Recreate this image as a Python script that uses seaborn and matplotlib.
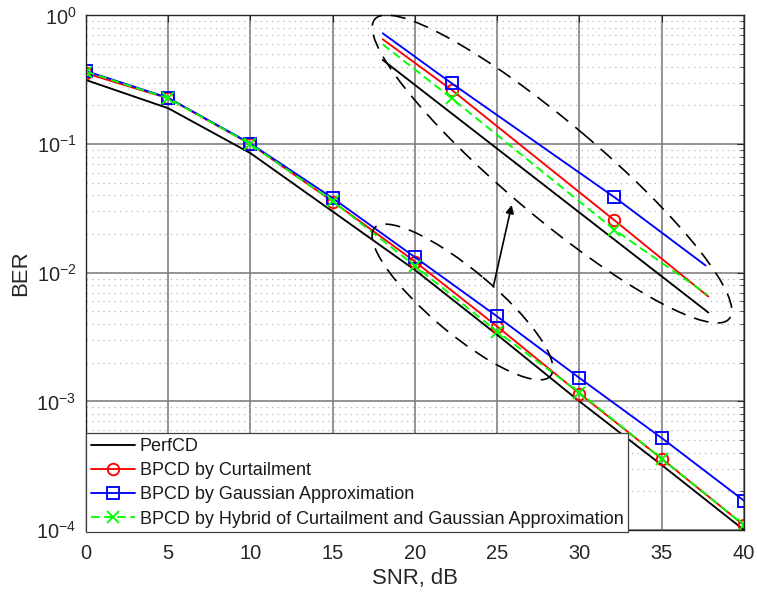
import numpy as np
import pandas as pd
import matplotlib
matplotlib.use("Agg")
import matplotlib.pyplot as plt
import seaborn as sns
from matplotlib.patches import Ellipse
from matplotlib.transforms import Affine2D
from matplotlib.ticker import LogLocator, NullLocator, NullFormatter

# ---------------- data ----------------
snr = [0, 5, 10, 15, 20, 25, 30, 35, 40]
ber_perfcd = [0.315, 0.19, 0.085, 0.0299, 0.0105, 0.00329, 0.00100, 0.000320, 0.000100]
ber_curt = [0.355, 0.227, 0.100, 0.0358, 0.0122, 0.00382, 0.00115, 0.000358, 0.000109]
ber_gauss = [0.370, 0.229, 0.101, 0.0380, 0.0132, 0.00457, 0.00152, 0.000519, 0.000169]
ber_hybrid = [0.366, 0.227, 0.100, 0.0360, 0.0113, 0.00349, 0.00117, 0.000358, 0.000109]

# magnified view (drawn in the upper right)
zoom_x_perfcd = [18.04, 37.83]
zoom_perfcd = [0.451, 0.00491]
zoom_x_curt = [18.04, 22.23, 32.12, 37.83]
zoom_curt = [0.653, 0.264, 0.0256, 0.00653]
zoom_x_gauss = [18.04, 22.23, 32.12, 37.67]
zoom_gauss = [0.727, 0.297, 0.0387, 0.01138]
zoom_x_hybrid = [18.04, 22.23, 32.12, 37.79]
zoom_hybrid = [0.597, 0.227, 0.0216, 0.00673]

labels = ["PerfCD", "BPCD by Curtailment", "BPCD by Gaussian Approximation",
          "BPCD by Hybrid of Curtailment and Gaussian Approximation"]
x_ticks = [0, 5, 10, 15, 20, 25, 30, 35, 40]

# ---------------- style ----------------
sns.set_theme(style="white")
plt.rcParams["font.family"] = ["Liberation Sans", "DejaVu Sans"]
plt.rcParams["mathtext.fontset"] = "custom"
plt.rcParams["mathtext.rm"] = "Liberation Sans"
plt.rcParams["mathtext.it"] = "Liberation Sans:italic"
plt.rcParams["mathtext.bf"] = "Liberation Sans:bold"
plt.rcParams["axes.unicode_minus"] = False

fig = plt.figure(figsize=(7.57, 5.98), dpi=100)
ax = fig.add_axes([0.1136, 0.1137, 0.8692, 0.8604])

LW = 1.35
MS = 8.3
styles = [
    dict(color="black", lw=LW, ls="-"),
    dict(color="#ff0000", lw=LW, ls="-", marker="o", markersize=MS,
         markerfacecolor="none", markeredgecolor="#ff0000", markeredgewidth=LW),
    dict(color="#0000ff", lw=LW, ls="-", marker="s", markersize=MS,
         markerfacecolor="none", markeredgecolor="#0000ff", markeredgewidth=LW),
    dict(color="#00ff00", lw=LW, ls=(0, (4.5, 2.5)), marker="x", markersize=MS,
         markeredgecolor="#00ff00", markeredgewidth=LW),
]

main_series = [ber_perfcd, ber_curt, ber_gauss, ber_hybrid]
for vals, lab, st in zip(main_series, labels, styles):
    sns.lineplot(x=snr, y=vals, ax=ax, label=lab, errorbar=None, **st)

zoom_series = [(zoom_x_perfcd, zoom_perfcd), (zoom_x_curt, zoom_curt),
               (zoom_x_gauss, zoom_gauss), (zoom_x_hybrid, zoom_hybrid)]
for (zx, zy), st in zip(zoom_series, styles):
    st2 = dict(st)
    if "marker" in st2:
        st2["markevery"] = [1, 2]
    sns.lineplot(x=zx, y=zy, ax=ax, label="_nolegend_", errorbar=None, **st2)

ax.set_yscale("log")
ax.set_xlim(0, 40)
ax.set_ylim(1e-4, 1)
ax.set_xticks(x_ticks)
ax.xaxis.set_minor_locator(NullLocator())
ax.yaxis.set_major_locator(LogLocator(base=10, numticks=10))
ax.yaxis.set_minor_locator(LogLocator(base=10, subs=np.arange(2, 10), numticks=50))
ax.yaxis.set_minor_formatter(NullFormatter())

ax.grid(which="major", color="#808080", lw=1.2, ls="-")
ax.grid(which="minor", axis="y", color="#b4b4b4", lw=0.9, ls=(0, (1, 3.5)))
ax.set_axisbelow(True)

ax.tick_params(which="both", direction="in", top=True, right=True,
               colors="#262626", labelsize=14.4)
ax.tick_params(which="major", length=5, width=0.8, pad=10)
ax.tick_params(which="minor", length=3, width=0.6)
ax.tick_params(axis="y", which="major", pad=7)
for sp in ax.spines.values():
    sp.set_color("#262626")
    sp.set_linewidth(1.0)

ax.set_xlabel("SNR, dB", fontsize=15.9, color="#262626", labelpad=4)
ax.set_ylabel("BER", fontsize=15.9, color="#262626", labelpad=4)

# ---------------- annotations (image pixel coordinates) ----------------
img = Affine2D().scale(1 / 100, -1 / 100).translate(0, 5.98) + fig.dpi_scale_trans
for (cx, cy, w, h, ang) in [(552, 169, 464, 94, 40.2), (462.5, 302, 230, 64, 40)]:
    e = Ellipse((cx, cy), w, h, angle=ang, transform=img, fill=False,
                edgecolor="black", lw=1.2, ls=(0, (9, 5.5)), clip_on=False, zorder=5)
    fig.add_artist(e)

ax.annotate("", xy=(511.7, 205), xytext=(493.3, 286.7), xycoords=img, textcoords=img,
            arrowprops=dict(arrowstyle="-|>", color="black", lw=1.2,
                            mutation_scale=12, shrinkA=0, shrinkB=0), zorder=6)

leg = ax.legend(loc="lower left", bbox_to_anchor=(0, -0.004), borderaxespad=0,
                fontsize=13, frameon=True, fancybox=False, framealpha=1,
                edgecolor="#404040", handlelength=2.45, handletextpad=0.28,
                labelspacing=0.4, borderpad=0.25)
leg.get_frame().set_linewidth(0.9)
for t in leg.get_texts():
    t.set_color("#1a1a1a")

fig.savefig("out.png", dpi=100)
